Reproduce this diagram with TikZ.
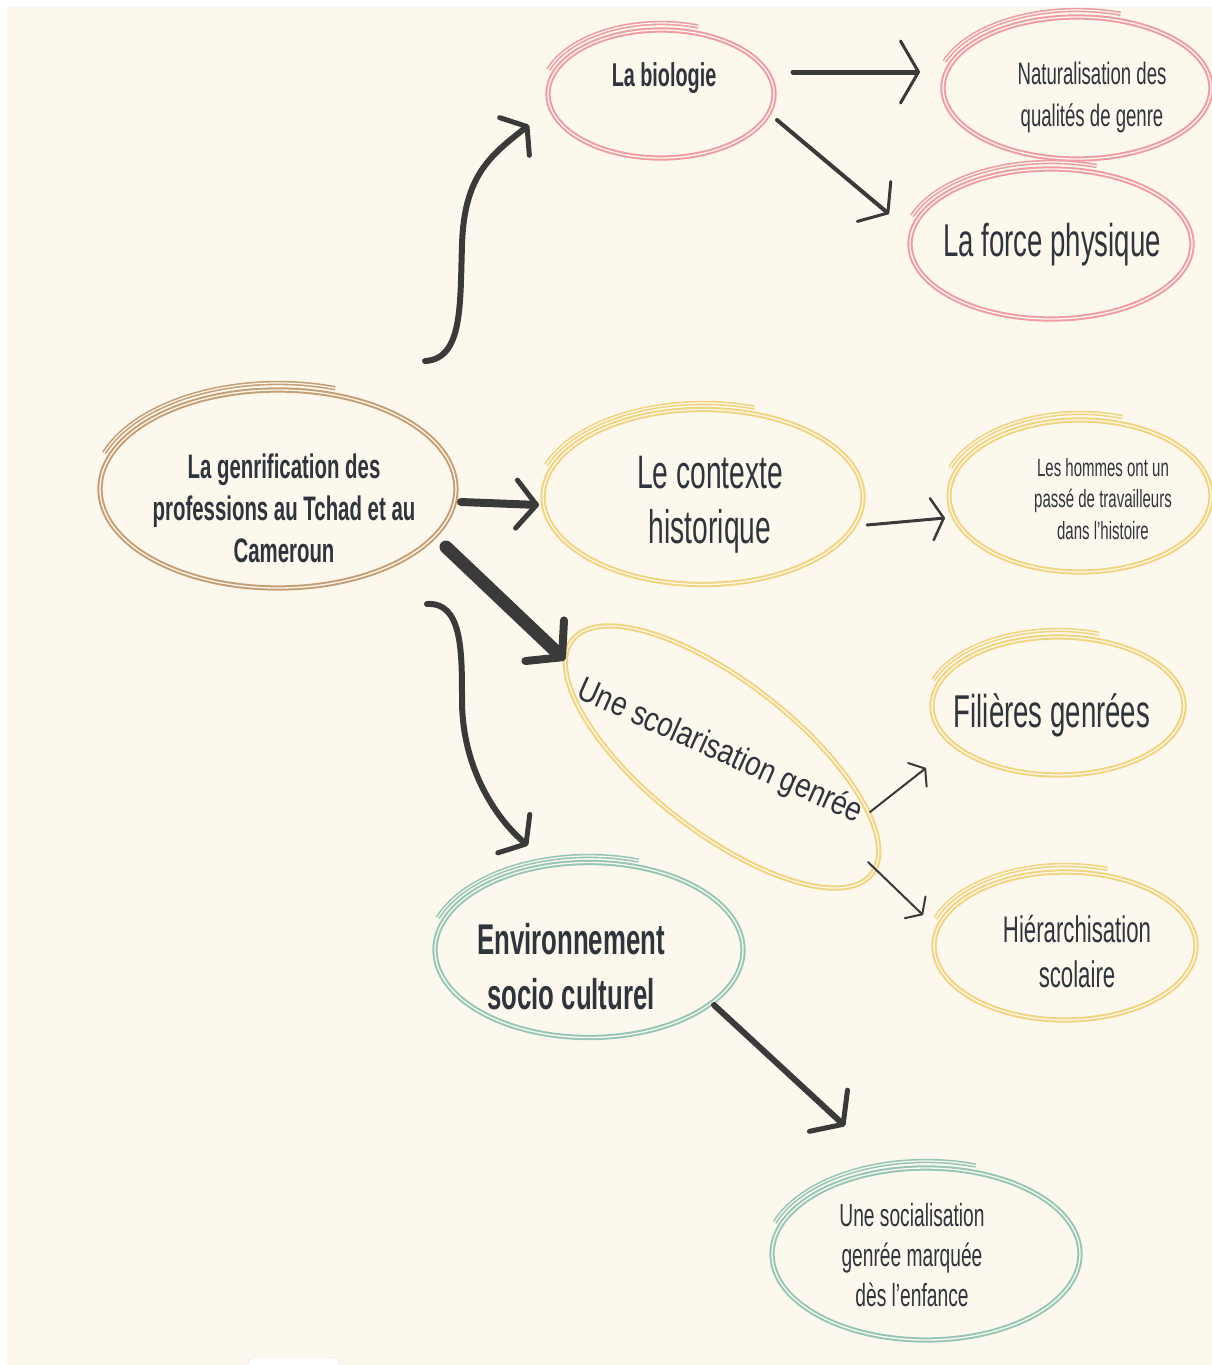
\documentclass[tikz,border=0pt]{standalone}
\usepackage{fontspec}
\setmainfont{Liberation Sans}[FakeStretch=0.6]
\newfontfamily\widefont{Liberation Sans}[FakeStretch=0.82]
\usetikzlibrary{shapes.geometric,arrows.meta,calc}

\definecolor{paper}{HTML}{FCF8EE}
\definecolor{ink}{HTML}{3A3A3A}
\definecolor{txt}{HTML}{30343C}
\definecolor{tan}{HTML}{C69E74}
\definecolor{rose}{HTML}{F09CA2}
\definecolor{sand}{HTML}{F2D47E}
\definecolor{sage}{HTML}{96C6B5}

\tikzset{ring/.style={ellipse, draw=#1, line width=2pt, double=paper, double distance=1.3pt, inner sep=0pt},
lbl/.style={text=txt, align=center, inner sep=0pt},
link/.style={draw=ink, line width=#1, line cap=round},
% chevron heads: length, width, stroke
barb/.style n args={3}{-{Straight Barb[length=#1, width=#2, line width=#3, round]}}}

% extra pen stroke on the top left of a ring
\newcommand\flick[4]{\draw[#4, line width=1.6pt, double=paper, double distance=1.2pt]
  ($(#1.center)+(200:#2 and #3)$) arc[start angle=200, end angle=288, x radius=#2, y radius=#3];}

\begin{document}
\begin{tikzpicture}[x=1pt,y=-1pt]
		\useasboundingbox (0,0) rectangle (1212,1365);
		\fill[white] (0,0) rectangle (1212,1365);
		\fill[paper] (7,7) rectangle (1212,1365);
		\filldraw[fill=white, draw=black!12, rounded corners=6pt] (248,1358) rectangle (340,1375);

		% rings
		\node[ring=tan, minimum width=356pt, minimum height=198pt] (genre) at (278,489) {};
		\node[ring=rose, minimum width=226pt, minimum height=128pt] (bio) at (661,94) {};
		\node[ring=rose, minimum width=268pt, minimum height=142pt] (nat) at (1077,88) {};
		\node[ring=rose, minimum width=282pt, minimum height=150pt] (force) at (1051,244) {};
		\node[ring=sand, minimum width=320pt, minimum height=175pt] (ctx) at (703,497) {};
		\node[ring=sand, minimum width=262pt, minimum height=152pt] (hommes) at (1080,496) {};
		\node[ring=sand, minimum width=380pt, minimum height=150pt, rotate=-38] (scol) at (722,757) {};
		\node[ring=sand, minimum width=252pt, minimum height=138pt] (fil) at (1058,706) {};
		\node[ring=sand, minimum width=262pt, minimum height=148pt] (hier) at (1065,946) {};
		\node[ring=sage, minimum width=308pt, minimum height=175pt] (env) at (589,950) {};
		\node[ring=sage, minimum width=308pt, minimum height=172pt] (soc) at (926,1254) {};

		\flick{genre}{185}{106}{tan}
		\flick{bio}{120}{71}{rose}
		\flick{nat}{141}{78}{rose}
		\flick{force}{148}{82}{rose}
		\flick{ctx}{167}{94}{sand}
		\flick{hommes}{138}{83}{sand}
		\flick{fil}{133}{76}{sand}
		\flick{hier}{138}{81}{sand}
		\flick{env}{161}{94}{sage}
		\flick{soc}{161}{93}{sage}

		% texts
		\node[lbl, font=\bfseries\fontsize{34}{42}\selectfont] (genre-t) at (284,508) {La genrification des\\professions au Tchad et au\\Cameroun};
		\node[lbl, font=\bfseries\fontsize{33}{40}\selectfont] (bio-t) at (664,78) {La biologie};
		\node[lbl, font=\fontsize{31}{42}\selectfont] (nat-t) at (1092,97) {Naturalisation des\\qualités de genre};
		\node[lbl, font=\fontsize{46}{52}\selectfont] (force-t) at (1052,245) {La force physique};
		\node[lbl, font=\fontsize{47}{55}\selectfont] (ctx-t) at (710,505) {Le contexte\\historique};
		\node[lbl, font=\fontsize{25}{31.5}\selectfont] (hommes-t) at (1103,499) {Les hommes ont un\\passé de travailleurs\\dans l'histoire};
		\node[lbl, font=\widefont\fontsize{34}{40}\selectfont, rotate=-24] (scol-t) at (720,752) {Une scolarisation genrée};
		\node[lbl, font=\fontsize{46}{52}\selectfont] (fil-t) at (1052,715) {Filières genrées};
		\node[lbl, font=\fontsize{37}{45}\selectfont] (hier-t) at (1077,952) {Hiérarchisation\\scolaire};
		\node[lbl, font=\bfseries\fontsize{43}{55}\selectfont] (env-t) at (571,967) {Environnement\\socio culturel};
		\node[lbl, font=\fontsize{32}{40}\selectfont] (soc-t) at (912,1255) {Une socialisation\\genrée marquée\\dès l'enfance};

		% connectors
		\draw[link=6pt, barb={16pt}{48pt}{5pt}]
		([xshift=147pt,yshift=28pt]genre.north) .. controls +(38,-2) and +(-2,60) .. (462,245)
		.. controls +(2,-70) and +(-38,30) .. ([xshift=-18pt,yshift=-31pt]bio.west);
		\draw[link=5pt, barb={18pt}{62pt}{3pt}]
		([xshift=18pt,yshift=22pt]bio.east) -- ([xshift=-22pt,yshift=16pt]nat.west);
		\draw[link=4pt, barb={18pt}{52pt}{3pt}]
		([xshift=2pt,yshift=-26pt]bio.east) -- ([xshift=-20pt,yshift=30pt]force.west);
		\draw[link=8pt, barb={20pt}{48pt}{5pt}]
		([xshift=4pt,yshift=-13pt]genre.east) -- ([xshift=-3pt,yshift=-8pt]ctx.west);
		\draw[link=13pt, barb={24pt}{56pt}{8pt}]
		([xshift=-11pt,yshift=-58pt]genre.east) -- ([xshift=-157pt,yshift=97pt]scol.center);
		\draw[link=6pt, barb={16pt}{50pt}{5pt}]
		([xshift=149pt,yshift=-15pt]genre.south) .. controls +(35,-2) and +(0,-50) .. (462,700)
		.. controls +(0,70) and +(-30,-25) .. ([xshift=-61pt,yshift=16pt]env.north);
		\draw[link=3pt, barb={12pt}{42pt}{2.5pt}]
		([xshift=3pt,yshift=-28pt]ctx.east) -- ([xshift=-3pt,yshift=-22pt]hommes.west);
		\draw[link=2pt, barb={10pt}{30pt}{2pt}]
		([xshift=148pt,yshift=-55pt]scol.center) -- ([xshift=-5pt,yshift=-62pt]fil.west);
		\draw[link=2pt, barb={10pt}{30pt}{2pt}]
		([xshift=146pt,yshift=-105pt]scol.center) -- ([xshift=-10pt,yshift=31pt]hier.west);
		\draw[link=6pt, barb={20pt}{56pt}{5pt}]
		([xshift=-30pt,yshift=-55pt]env.east) -- ([xshift=-81pt,yshift=41pt]soc.north);

	\end{tikzpicture}
\end{document}
